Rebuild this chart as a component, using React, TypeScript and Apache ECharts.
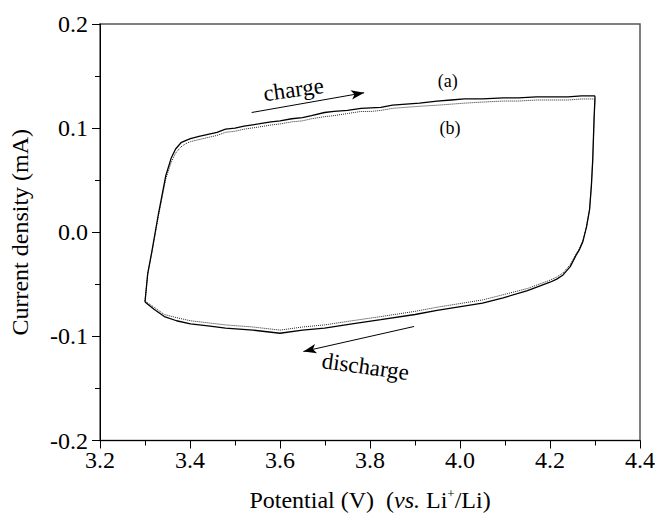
import React, { useEffect, useRef } from "react";
import * as echarts from "echarts";

const potentialA = [3.300, 3.306, 3.315, 3.330, 3.346, 3.358, 3.368, 3.380, 3.390, 3.401, 3.420, 3.440, 3.460, 3.479, 3.500, 3.520, 3.552, 3.580, 3.600, 3.626, 3.650, 3.670, 3.699, 3.720, 3.750, 3.780, 3.802, 3.824, 3.850, 3.880, 3.910, 3.949, 3.980, 4.010, 4.050, 4.096, 4.130, 4.170, 4.200, 4.240, 4.270, 4.299, 4.300, 4.298, 4.295, 4.292, 4.288, 4.281, 4.273, 4.265, 4.258, 4.245, 4.229, 4.215, 4.200, 4.150, 4.096, 4.050, 3.949, 3.900, 3.824, 3.760, 3.699, 3.650, 3.600, 3.540, 3.479, 3.440, 3.401, 3.370, 3.343, 3.320, 3.300];
const currentA = [-0.067, -0.040, -0.019, 0.018, 0.054, 0.071, 0.080, 0.086, 0.088, 0.090, 0.092, 0.094, 0.096, 0.099, 0.100, 0.102, 0.104, 0.106, 0.107, 0.109, 0.110, 0.112, 0.115, 0.116, 0.117, 0.119, 0.1195, 0.120, 0.122, 0.123, 0.124, 0.126, 0.127, 0.128, 0.128, 0.129, 0.129, 0.130, 0.130, 0.130, 0.131, 0.131, 0.130, 0.110, 0.070, 0.045, 0.022, 0.005, -0.009, -0.017, -0.022, -0.033, -0.041, -0.045, -0.048, -0.056, -0.063, -0.068, -0.075, -0.079, -0.084, -0.088, -0.092, -0.094, -0.097, -0.094, -0.092, -0.090, -0.088, -0.085, -0.081, -0.074, -0.067];
const currentB = [-0.066, -0.040, -0.020, 0.016, 0.051, 0.067, 0.076, 0.082, 0.085, 0.087, 0.089, 0.091, 0.093, 0.096, 0.097, 0.099, 0.101, 0.103, 0.104, 0.106, 0.107, 0.109, 0.111, 0.112, 0.114, 0.116, 0.116, 0.117, 0.119, 0.120, 0.121, 0.122, 0.123, 0.124, 0.125, 0.126, 0.126, 0.127, 0.127, 0.127, 0.128, 0.128, 0.127, 0.108, 0.069, 0.045, 0.022, 0.005, -0.008, -0.016, -0.021, -0.031, -0.039, -0.043, -0.046, -0.054, -0.060, -0.065, -0.072, -0.076, -0.081, -0.085, -0.089, -0.091, -0.094, -0.091, -0.089, -0.087, -0.085, -0.082, -0.079, -0.072, -0.066];

const chargeArrow = [[3.537, 0.115], [3.787, 0.134]];
const dischargeArrow = [[3.898, -0.0905], [3.652, -0.1145]];
const labels = [
  { text: "charge", at: [3.63, 0.137], rot: 8, size: 23 },
  { text: "discharge", at: [3.79, -0.129], rot: -8, size: 23 },
  { text: "(a)", at: [3.973, 0.145], rot: 0, size: 18 },
  { text: "(b)", at: [3.978, 0.100], rot: 0, size: 18 },
];

const FONT = "'Liberation Serif', 'Times New Roman', 'DejaVu Serif', serif";

export default function App() {
  const ref = useRef<HTMLDivElement>(null);
  useEffect(() => {
    if (!ref.current) return;
    const chart = echarts.init(ref.current, null, { renderer: "svg" });
    const axisCommon = {
      axisLine: { show: true, onZero: false, lineStyle: { color: "#000", width: 1 } },
      axisTick: { show: true, inside: false, length: 8, lineStyle: { color: "#000" } },
      minorTick: { show: true, splitNumber: 2, length: 5, lineStyle: { color: "#000" } },
      splitLine: { show: false },
      axisLabel: { color: "#000", fontFamily: FONT, fontSize: 24 },
    };
    chart.setOption({
      animation: false,
      backgroundColor: "#fff",
      textStyle: { fontFamily: FONT },
      grid: { left: 97, top: 24, right: 17, bottom: 74, show: true, borderColor: "#555", borderWidth: 1.5 },
      xAxis: {
        type: "value",
        min: 3.2,
        max: 4.4,
        interval: 0.2,
        ...axisCommon,
        axisLabel: { ...axisCommon.axisLabel, margin: 7, formatter: (v: number) => v.toFixed(1) },
        name: "{n|Potential (V)  (}{i|vs.}{n| Li}{s|+}{n|/Li)}",
        nameLocation: "middle",
        nameGap: 46,
        nameTextStyle: {
          color: "#000",
          fontFamily: FONT,
          fontSize: 24,
          rich: {
            n: { fontFamily: FONT, fontSize: 24, color: "#000" },
            i: { fontFamily: FONT, fontSize: 24, fontStyle: "italic", color: "#000" },
            s: { fontFamily: FONT, fontSize: 13, color: "#000", padding: [0, 0, 14, 0] },
          },
        },
      },
      yAxis: {
        type: "value",
        min: -0.2,
        max: 0.2,
        interval: 0.1,
        ...axisCommon,
        axisLabel: { ...axisCommon.axisLabel, margin: 12, formatter: (v: number) => v.toFixed(1) },
        name: "Current density (mA)",
        nameLocation: "middle",
        nameGap: 68,
        nameTextStyle: { color: "#000", fontFamily: FONT, fontSize: 24 },
      },
      series: [
        {
          type: "line",
          name: "(b)",
          data: potentialA.map((x, i) => [x, currentB[i]]),
          showSymbol: false,
          lineStyle: { color: "#222", width: 1, type: "dotted" },
          z: 2,
        },
        {
          type: "line",
          name: "(a)",
          data: potentialA.map((x, i) => [x, currentA[i]]),
          showSymbol: false,
          lineStyle: { color: "#000", width: 1.3 },
          z: 3,
          markLine: {
            silent: true,
            symbol: ["none", "arrow"],
            symbolSize: [7, 13],
            label: { show: false },
            lineStyle: { color: "#000", width: 1, type: "solid" },
            data: [
              [{ coord: chargeArrow[0] }, { coord: chargeArrow[1] }],
              [{ coord: dischargeArrow[0] }, { coord: dischargeArrow[1] }],
            ],
          },
        },
      ],
    });
    const graphics = labels.map((l) => {
      const p = chart.convertToPixel({ gridIndex: 0 }, l.at) as number[];
      return {
        type: "text",
        x: p[0],
        y: p[1],
        rotation: (l.rot * Math.PI) / 180,
        style: {
          text: l.text,
          fill: "#000",
          fontFamily: FONT,
          fontSize: l.size,
          textAlign: "center",
          textVerticalAlign: "middle",
        },
      };
    });
    chart.setOption({ graphic: graphics });
    return () => chart.dispose();
  }, []);
  return (
    <div
      ref={ref}
      style={{ position: "fixed", left: 0, top: 0, width: 658, height: 517 }}
    />
  );
}
